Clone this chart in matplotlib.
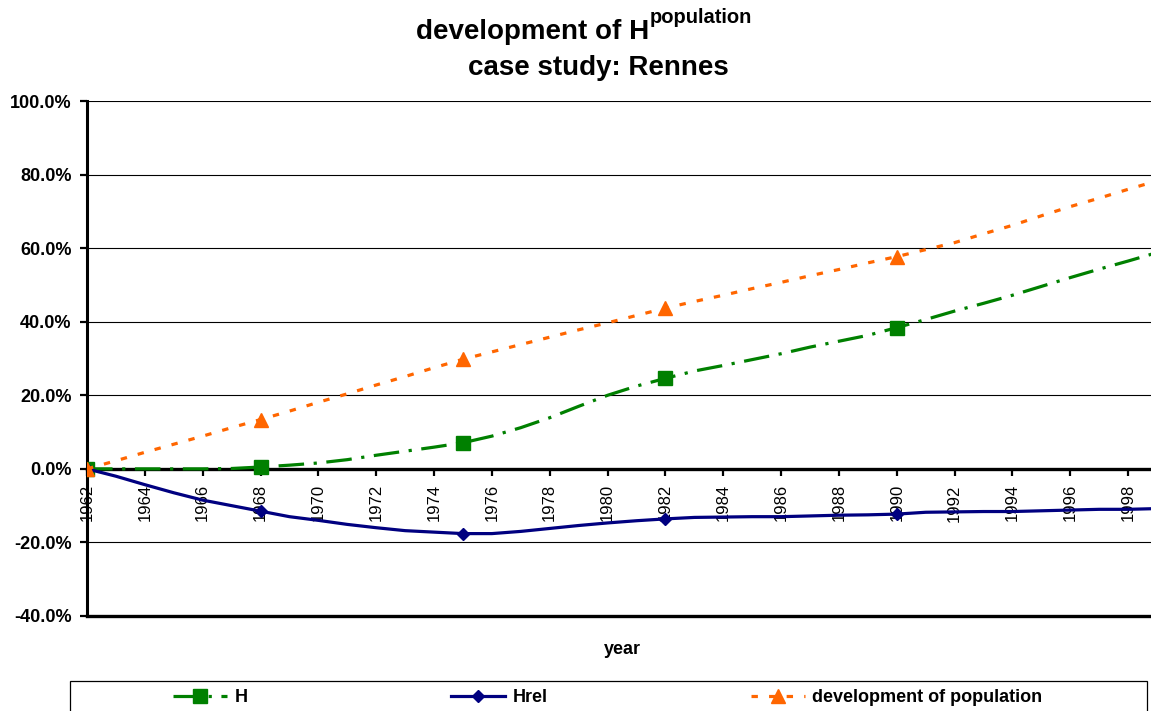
import matplotlib
matplotlib.use("Agg")
import matplotlib.pyplot as plt
from matplotlib.lines import Line2D
from matplotlib.patches import Rectangle
from matplotlib.ticker import FuncFormatter

plt.rcParams["font.family"] = ["Liberation Sans", "DejaVu Sans"]

# yearly series (percent change relative to 1962)
years = list(range(1962, 2000))
h_values = [0.0, 0.0, 0.0, 0.0, 0.0, 0.1, 0.5, 1.0, 1.6, 2.5, 3.7, 4.8, 5.9, 7.1,
            8.9, 11.2, 13.9, 17.0, 20.0, 22.5, 24.6, 26.6, 28.1, 29.7, 31.3, 33.1,
            34.7, 36.3, 38.4, 40.6, 42.9, 45.0, 47.2, 49.6, 52.0, 54.3, 56.5, 58.8]
hrel_values = [0.0, -2.0, -4.3, -6.5, -8.5, -10.0, -11.5, -13.0, -14.0, -15.1, -16.0,
               -16.8, -17.2, -17.6, -17.6, -17.0, -16.2, -15.4, -14.7, -14.1, -13.6,
               -13.2, -13.1, -13.0, -13.0, -12.8, -12.6, -12.5, -12.3, -11.8, -11.7,
               -11.6, -11.6, -11.4, -11.2, -11.0, -11.0, -10.8]
population_values = [0.0, 2.2, 4.5, 6.7, 8.9, 11.2, 13.4, 15.7, 18.1, 20.4, 22.8, 25.1,
                     27.5, 29.8, 31.8, 33.8, 35.8, 37.8, 39.7, 41.7, 43.7, 45.5, 47.2,
                     49.0, 50.7, 52.5, 54.2, 56.0, 57.7, 59.6, 61.5, 63.9, 66.2, 68.8,
                     71.3, 73.6, 76.0, 78.3]
census_years = [1962, 1968, 1975, 1982, 1990]
x_tick_years = list(range(1962, 1999, 2))
y_ticks = [-40, -20, 0, 20, 40, 60, 80, 100]

GREEN = "#008000"
NAVY = "#000080"
ORANGE = "#FF6600"

W, H = 1151, 711
fig = plt.figure(figsize=(W / 100, H / 100), dpi=100)
ax = fig.add_axes([87 / W, 1 - 616 / H, (W - 87) / W, (616 - 101) / H])

mark_idx = [years.index(y) for y in census_years]

style_h = dict(color=GREEN, lw=2.3, dashes=(8, 3, 1, 3), marker="s", ms=9.5,
               mec=GREEN, mfc=GREEN)
style_hrel = dict(color=NAVY, lw=2.3, linestyle="-", marker="D", ms=6.5,
                  mec=NAVY, mfc=NAVY)
style_pop = dict(color=ORANGE, lw=2.3, dashes=(2, 3.5), marker="^", ms=9.5,
                 mec=ORANGE, mfc=ORANGE)

ax.plot(years, h_values, markevery=mark_idx, zorder=4, **style_h)
ax.plot(years, hrel_values, markevery=mark_idx, zorder=4, **style_hrel)
ax.plot(years, population_values, markevery=mark_idx, zorder=5, **style_pop)

ax.set_xlim(1962, 1962 + (W - 86.7) / 28.93)
ax.set_ylim(-40, 100)

# axes styling
for side in ("top", "right"):
    ax.spines[side].set_visible(False)
ax.spines["left"].set_linewidth(2.2)
ax.spines["bottom"].set_position(("data", 0))
ax.spines["bottom"].set_linewidth(2.4)
ax.spines["left"].set_zorder(3)
ax.spines["bottom"].set_zorder(3)

ax.set_yticks(y_ticks)
ax.yaxis.set_major_formatter(FuncFormatter(lambda v, p: f"{v:.1f}%"))
ax.set_xticks(x_tick_years)
ax.set_xticklabels([str(y) for y in x_tick_years], rotation=90, fontsize=12)
ax.tick_params(axis="x", direction="out", length=5, width=1.6, pad=6)
ax.tick_params(axis="y", direction="out", length=5, width=1.6, pad=6,
               labelsize=13)
for lab in ax.get_yticklabels():
    lab.set_fontweight("bold")

ax.yaxis.grid(True, color="black", lw=0.8)
ax.set_axisbelow(True)
ax.axhline(-40, color="black", lw=2.4, zorder=3, clip_on=False)

# title
fig.text(416 / W, 1 - 39 / H, "development of H", fontsize=20, fontweight="bold",
         ha="left", va="baseline")
fig.text(650 / W, 1 - 23 / H, "population", fontsize=14.5, fontweight="bold",
         ha="left", va="baseline")
fig.text(598 / W, 1 - 75 / H, "case study: Rennes", fontsize=20, fontweight="bold",
         ha="center", va="baseline")

# x-axis title
fig.text(622 / W, 1 - 649 / H, "year", fontsize=13, fontweight="bold",
         ha="center", va="center")

# legend frame and entries
fig.patches.append(Rectangle((70 / W, -0.05), (1147 - 70) / W, 0.05 + 1 - 681 / H,
                             transform=fig.transFigure, fill=False,
                             edgecolor="black", lw=0.9))
entries = [("H", style_h, 173), ("Hrel", style_hrel, 451),
           ("development of population", style_pop, 751)]
for label, style, xpix in entries:
    handle = Line2D([], [], **style)
    fig.legend([handle], [label], loc="center left",
               bbox_to_anchor=(xpix / W, 1 - 698 / H), frameon=False,
               borderpad=0, borderaxespad=0, handlelength=3.0,
               handletextpad=0.4, prop={"size": 13, "weight": "bold"},
               numpoints=1)

fig.savefig("out.png", dpi=100)
